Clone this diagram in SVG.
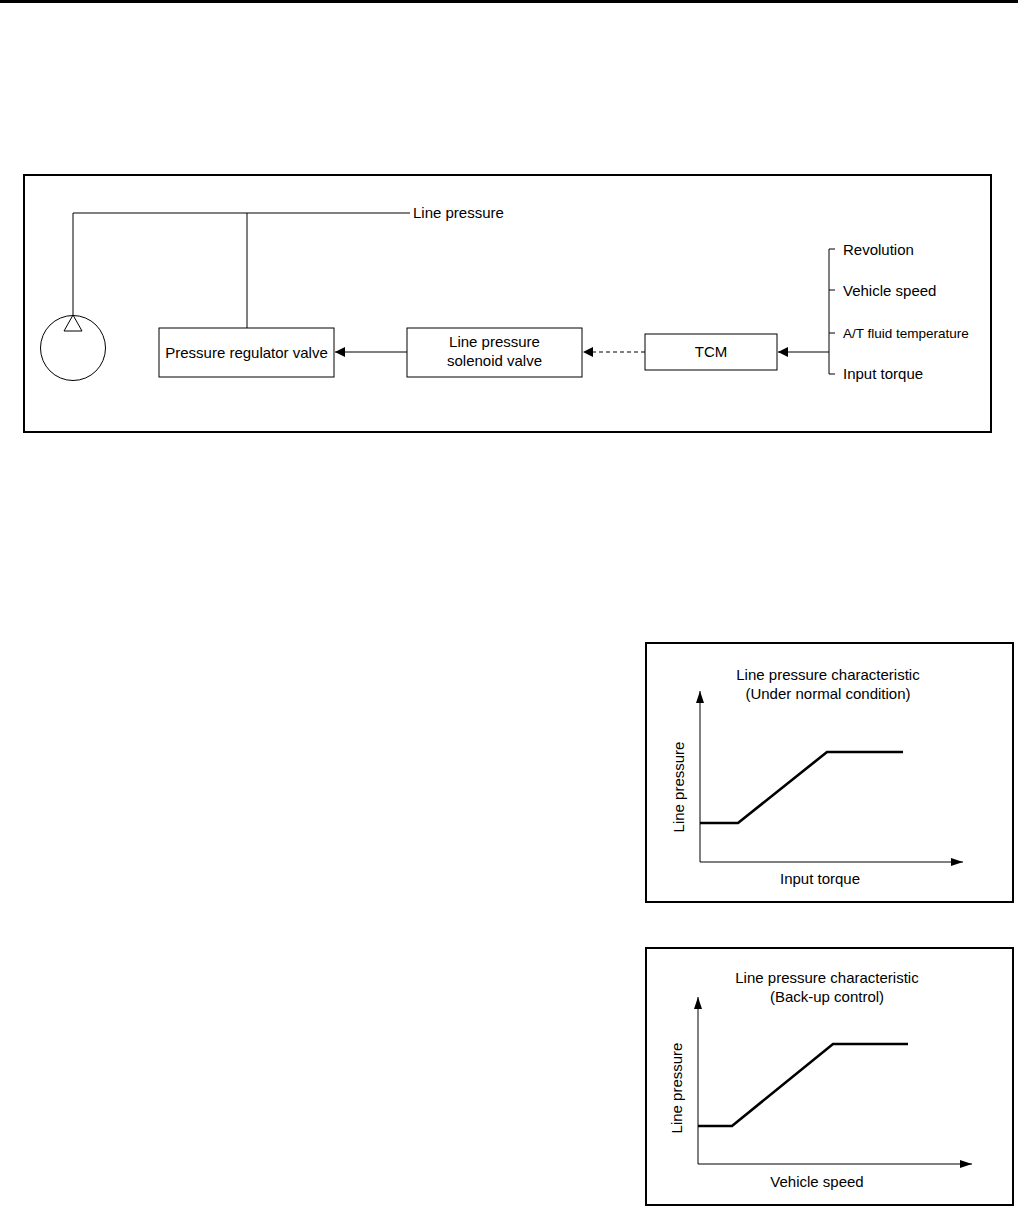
<svg xmlns="http://www.w3.org/2000/svg" width="1018" height="1209" viewBox="0 0 1018 1209">
<style>
text{font-family:"Liberation Sans",Arial,sans-serif;font-size:15px;fill:#000}
.thin{fill:none;stroke:#000;stroke-width:1}
.frame{fill:none;stroke:#000;stroke-width:2}
.node{fill:#fff;stroke:#000;stroke-width:1}
.curve{fill:none;stroke:#000;stroke-width:2.6;stroke-linejoin:miter}
.mid{text-anchor:middle}
</style>
<defs>
<marker id="ah" viewBox="0 0 10 10" refX="10" refY="5" markerWidth="10" markerHeight="10" markerUnits="userSpaceOnUse" orient="auto">
<path d="M0,0 L10,5 L0,10 z" fill="#000"/>
</marker>
<marker id="axh" viewBox="0 0 12 8" refX="12" refY="4" markerWidth="12" markerHeight="8" markerUnits="userSpaceOnUse" orient="auto">
<path d="M0,0 L12,4 L0,8 z" fill="#000"/>
</marker>
</defs>
<rect x="0" y="0" width="1018" height="3" fill="#000"/>
<rect class="frame" x="24" y="175" width="967" height="257"/>
<g id="connectors">
<path class="thin" d="M73,315 V213 H410"/>
<path class="thin" d="M247,213 V328"/>
<line class="thin" x1="407" y1="352" x2="335" y2="352" marker-end="url(#ah)"/>
<line class="thin" x1="645" y1="352" x2="583" y2="352" stroke-dasharray="4,3" marker-end="url(#ah)"/>
<line class="thin" x1="829" y1="352" x2="778" y2="352" marker-end="url(#ah)"/>
<path class="thin" d="M835,249 H829 V374 H835 M829,290 H835 M829,333 H835"/>
</g>
<g id="line-pressure-label"><text x="413" y="218">Line pressure</text></g>
<g id="pump">
<circle class="thin" cx="73" cy="348" r="32.5"/>
<path class="thin" d="M73,315 L64,331 H82 Z"/>
</g>
<g id="pressure-regulator-valve">
<rect class="node" x="159" y="328" width="175" height="49"/>
<text class="mid" x="246.5" y="358">Pressure regulator valve</text>
</g>
<g id="line-pressure-solenoid-valve">
<rect class="node" x="407" y="328" width="175" height="49"/>
<text class="mid" x="494.5" y="347">Line pressure</text>
<text class="mid" x="494.5" y="366">solenoid valve</text>
</g>
<g id="tcm">
<rect class="node" x="645" y="334" width="132" height="36"/>
<text class="mid" x="711" y="357">TCM</text>
</g>
<g id="inputs">
<text x="843" y="255">Revolution</text>
<text x="843" y="296">Vehicle speed</text>
<text x="843" y="338" style="font-size:13.5px">A/T fluid temperature</text>
<text x="843" y="379">Input torque</text>
</g>
<g id="graph-normal">
<rect class="frame" x="646" y="643" width="367" height="259"/>
<text class="mid" x="828" y="680">Line pressure characteristic</text>
<text class="mid" x="828" y="699">(Under normal condition)</text>
<line class="thin" x1="700" y1="862" x2="700" y2="691" marker-end="url(#axh)"/>
<line class="thin" x1="700" y1="862" x2="963" y2="862" marker-end="url(#axh)"/>
<path class="curve" d="M700,823 H738 L827,752 H903"/>
<text class="mid" transform="translate(684,787) rotate(-90)">Line pressure</text>
<text class="mid" x="820" y="884">Input torque</text>
</g>
<g id="graph-backup">
<rect class="frame" x="646" y="948" width="367" height="257"/>
<text class="mid" x="827" y="983">Line pressure characteristic</text>
<text class="mid" x="827" y="1002">(Back-up control)</text>
<line class="thin" x1="698" y1="1164" x2="698" y2="997" marker-end="url(#axh)"/>
<line class="thin" x1="698" y1="1164" x2="972" y2="1164" marker-end="url(#axh)"/>
<path class="curve" d="M698,1126 H732 L833,1044 H908"/>
<text class="mid" transform="translate(682,1088) rotate(-90)">Line pressure</text>
<text class="mid" x="817" y="1187">Vehicle speed</text>
</g>
</svg>
